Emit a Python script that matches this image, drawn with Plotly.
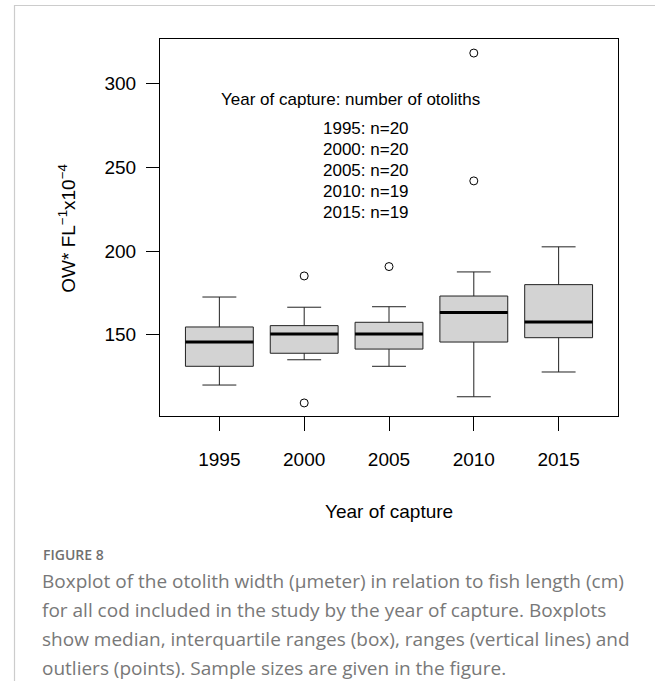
import plotly.graph_objects as go

# ---- data ----
years = ["1995", "2000", "2005", "2010", "2015"]
positions = [1, 2, 3, 4, 5]
lower_whisker = [119.9, 135.0, 131.1, 112.9, 127.7]
q1_vals = [131.1, 138.9, 141.4, 145.6, 148.2]
medians = [145.6, 150.4, 150.4, 163.2, 157.6]
q3_vals = [154.6, 155.4, 157.4, 173.1, 179.9]
upper_whisker = [172.5, 166.4, 166.7, 187.5, 202.5]
outlier_x = [2, 2, 3, 4, 4]
outlier_y = [185.1, 109.2, 190.7, 241.9, 318.3]
sample_sizes = [20, 20, 20, 19, 19]
y_ticks = [150, 200, 250, 300]

caption_title = "FIGURE 8"
caption_lines = [
    "Boxplot of the otolith width (\u00b5meter) in relation to fish length (cm)",
    "for all cod included in the study by the year of capture. Boxplots",
    "show median, interquartile ranges (box), ranges (vertical lines) and",
    "outliers (points). Sample sizes are given in the figure.",
]

# ---- layout geometry (pixels) ----
W, H = 655, 681
L, R, T, B = 160, 37, 39, 265
pw = W - L - R
ph = H - T - B


def px_x(x):
    return (x - L) / pw


def px_y(y):
    return (H - B - y) / ph


FONT = "Liberation Sans, Arial, sans-serif"

fig = go.Figure()

fig.add_trace(go.Box(
    x=positions,
    q1=q1_vals, median=medians, q3=q3_vals,
    lowerfence=lower_whisker, upperfence=upper_whisker,
    width=0.8, whiskerwidth=0.5,
    fillcolor="#d3d3d3",
    line=dict(color="#222222", width=1),
    boxpoints=False,
    showlegend=False,
    hoverinfo="skip",
))

# thick median lines
mx, my = [], []
for p, m in zip(positions, medians):
    mx += [p - 0.4, p + 0.4, None]
    my += [m, m, None]
fig.add_trace(go.Scatter(
    x=mx, y=my, mode="lines",
    line=dict(color="black", width=3),
    showlegend=False, hoverinfo="skip",
))

# outliers
fig.add_trace(go.Scatter(
    x=outlier_x, y=outlier_y, mode="markers",
    marker=dict(symbol="circle-open", size=8, color="black", line=dict(width=1)),
    showlegend=False, hoverinfo="skip",
))

annotations = []
# in-plot legend text
annotations.append(dict(
    x=2.547, y=290.4, xref="x", yref="y",
    text="Year of capture: number of otoliths", showarrow=False,
    font=dict(family=FONT, size=17, color="black"),
    xanchor="center", yanchor="middle",
))
line_y = [273.1, 260.5, 248.1, 235.3, 223.0]
for yr, n, yy in zip(years, sample_sizes, line_y):
    annotations.append(dict(
        x=2.732, y=yy, xref="x", yref="y",
        text=f"{yr}: n={n}", showarrow=False,
        font=dict(family=FONT, size=17, color="black"),
        xanchor="center", yanchor="middle",
    ))

# axis titles
annotations.append(dict(
    x=px_x(66.7), y=px_y(228), xref="paper", yref="paper",
    text="OW* FL<sup>\u22121</sup>x10<sup>\u22124</sup>", showarrow=False,
    textangle=-90, font=dict(family=FONT, size=19, color="black"),
    xanchor="center", yanchor="middle",
))
annotations.append(dict(
    x=px_x(389), y=px_y(511.7), xref="paper", yref="paper",
    text="Year of capture", showarrow=False,
    font=dict(family=FONT, size=19, color="black"),
    xanchor="center", yanchor="middle",
))

# caption
CAPFONT = "Open Sans, Lato, sans-serif"
annotations.append(dict(
    x=px_x(41), y=px_y(554.5), xref="paper", yref="paper",
    text=caption_title, showarrow=False,
    font=dict(family=CAPFONT, size=14, color="#707070", weight=600),
    xanchor="left", yanchor="middle",
))
for i, ln in enumerate(caption_lines):
    annotations.append(dict(
        x=px_x(41), y=px_y(581 + 29 * i), xref="paper", yref="paper",
        text=ln, showarrow=False, borderpad=0,
        font=dict(family=CAPFONT, size=19, color="#787878"),
        xanchor="left", yanchor="middle",
    ))

shapes = [
    dict(type="line", xref="paper", yref="paper",
         x0=px_x(14), x1=px_x(W + 5), y0=px_y(5.5), y1=px_y(5.5),
         line=dict(color="#cccccc", width=1.2)),
    dict(type="line", xref="paper", yref="paper",
         x0=px_x(14.5), x1=px_x(14.5), y0=px_y(5), y1=px_y(H + 5),
         line=dict(color="#cccccc", width=1.2)),
]

axis_common = dict(
    showgrid=False, zeroline=False,
    showline=True, mirror=True, linecolor="black", linewidth=1,
    ticks="outside", tickcolor="black", tickwidth=1,
    tickfont=dict(family=FONT, size=19, color="black"),
)

fig.update_layout(
    width=W, height=H, autosize=False,
    margin=dict(l=L, r=R, t=T, b=B),
    paper_bgcolor="white", plot_bgcolor="white",
    xaxis=dict(range=[0.3, 5.7], tickvals=positions, ticktext=years,
               ticklen=14, ticklabelstandoff=12, **axis_common),
    yaxis=dict(range=[101.4, 326.7], tickvals=y_ticks,
               ticklen=13, ticklabelstandoff=6, **axis_common),
    annotations=annotations,
    shapes=shapes,
    showlegend=False,
)

fig.write_html(
    "out.html",
    config={"displayModeBar": False},
    post_script="document.body.style.margin='0px';document.body.style.overflow='hidden';",
)
